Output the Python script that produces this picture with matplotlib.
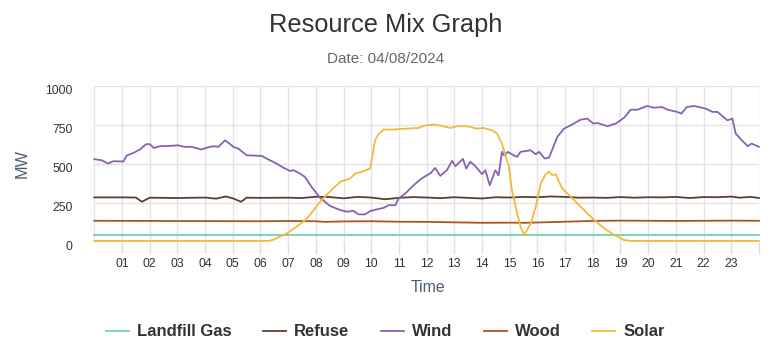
"""Resource mix for one day: MW by fuel type over 24 hours."""
import matplotlib

matplotlib.use("Agg")
import matplotlib.pyplot as plt
import matplotlib.transforms as mtransforms

plt.rcParams["font.family"] = ["Liberation Sans", "DejaVu Sans"]

# values (hour of day, MW)
landfill_hours = [0, 6, 12, 18, 24]
landfill_mw = [40, 40, 40, 40, 40]

refuse_hours = [0, 1, 1.5, 1.72, 2.0, 3, 4, 4.4, 4.75, 5.0, 5.3, 5.5, 6, 7, 7.5, 8,
                8.5, 9, 9.5, 10, 10.5, 11, 11.5, 12, 12.5, 13, 13.5, 14, 14.5, 15,
                15.5, 16, 16.5, 17, 17.5, 18, 18.5, 19, 19.5, 20, 20.5, 21, 21.5, 22,
                22.5, 23, 23.3, 23.7, 24]
refuse_mw = [284, 284, 283, 256, 282, 280, 283, 276, 290, 278, 256, 282, 281, 282, 280, 288,
             286, 278, 287, 283, 272, 281, 286, 283, 279, 285, 281, 277, 285, 283,
             287, 285, 290, 287, 282, 283, 281, 286, 282, 285, 284, 287, 280, 286,
             285, 289, 282, 287, 280]

wind_hours = [0, 0.26, 0.5, 0.69, 1.05, 1.17, 1.41, 1.65, 1.87, 2.0, 2.15, 2.37, 2.73,
              3.03, 3.27, 3.51, 3.87, 4.06, 4.3, 4.48, 4.72, 4.85, 5.02, 5.2, 5.5, 5.74,
              6.04, 6.34, 6.58, 6.82, 7.06, 7.2, 7.42, 7.6, 7.85, 8.16, 8.52, 8.88, 9.12,
              9.36, 9.54, 9.78, 9.96, 10.2, 10.45, 10.63, 10.87, 10.99, 11.23, 11.47,
              11.77, 12.01, 12.13, 12.31, 12.49, 12.73, 12.92, 13.04, 13.31, 13.43,
              13.58, 13.76, 14.0, 14.12, 14.28, 14.48, 14.6, 14.72, 14.8, 14.93, 15.14,
              15.27, 15.39, 15.75, 15.94, 16.06, 16.26, 16.42, 16.72, 16.96, 17.2, 17.56,
              17.8, 18.02, 18.17, 18.53, 18.83, 19.13, 19.37, 19.61, 19.97, 20.2, 20.5,
              20.7, 21.05, 21.2, 21.39, 21.66, 22.08, 22.32, 22.5, 22.86, 23.04, 23.16,
              23.4, 23.6, 23.73, 24.0]
wind_mw = [529, 522, 501, 516, 514, 552, 569, 591, 625, 625, 601, 612, 614,
           618, 608, 608, 591, 603, 612, 608, 650, 633, 608, 597, 554, 552,
           550, 522, 501, 475, 454, 458, 437, 416, 350, 280, 228, 203, 192,
           198, 175, 175, 196, 207, 217, 234, 234, 277, 309, 352,
           399, 426, 437, 473, 422, 458, 518, 484, 531, 469,
           512, 484, 433, 458, 362, 458, 426, 576, 552, 576, 554,
           544, 576, 586, 561, 576, 533, 539, 672, 725, 746, 782,
           789, 757, 761, 740, 757, 795, 846, 846, 870, 859, 863,
           846, 832, 821, 863, 870, 853, 832, 832, 778, 789, 693,
           646, 612, 629, 608]

wood_hours = [0, 2, 4, 6, 7, 8, 8.3, 9, 10, 11, 12, 13, 14, 15, 15.5, 16, 17, 18,
              19, 20, 21, 22, 23, 24]
wood_mw = [134, 133, 132, 131, 133, 131, 127, 130, 131, 128, 127, 124, 121, 122, 121,
           123, 128, 133, 135, 134, 133, 134, 135, 134]

solar_hours = [0, 6.3, 6.5, 6.7, 7.0, 7.3, 7.55, 7.8, 8.15, 8.5, 8.88, 9.24, 9.42, 9.66,
               9.96, 10.14, 10.26, 10.45, 10.81, 11.29, 11.71, 11.95, 12.25, 12.61,
               12.86, 13.1, 13.46, 13.82, 14.06, 14.36, 14.54, 14.72, 14.84, 14.96,
               15.08, 15.27, 15.41, 15.53, 15.69, 15.76, 15.94, 16.12, 16.3, 16.42,
               16.54, 16.66, 16.78, 16.9, 17.08, 17.32, 17.68, 18.05, 18.41, 18.77,
               19.13, 19.37, 24]
solar_mw = [5, 5, 14, 32, 58, 96, 128, 175, 255, 320, 384, 405, 437, 448,
            469, 650, 689, 719, 719, 725, 729, 746, 751, 740,
            729, 740, 740, 725, 729, 714, 693, 629, 554, 490,
            330, 181, 85, 43, 96, 117, 224, 373, 433, 448,
            426, 433, 384, 341, 309, 267, 203, 139, 85, 43,
            11, 5, 5]

hour_ticks = list(range(1, 25))
hour_labels = [f"{h:02d}" for h in range(1, 24)] + [""]
mw_ticks = [0, 250, 500, 750, 1000]

series = [
    ("Landfill Gas", landfill_hours, landfill_mw, "#74d1ad"),
    ("Refuse", refuse_hours, refuse_mw, "#5e3e2e"),
    ("Wind", wind_hours, wind_mw, "#8762b1"),
    ("Wood", wood_hours, wood_mw, "#ad551f"),
    ("Solar", solar_hours, solar_mw, "#f2ba3d"),
]

fig = plt.figure(figsize=(7.71, 3.55), dpi=100)
ax = fig.add_axes([0.1223, 0.3192, 0.8621, 0.4394])

for name, xs, ys, color in series:
    ax.plot(xs, ys, color=color, lw=1.3, label=name, clip_on=False, zorder=3)

ax.set_xlim(0, 24)
ax.set_ylim(0, 1000)
ax.set_xticks(hour_ticks)
ax.set_xticklabels(hour_labels)
ax.set_yticks(mw_ticks)
ax.grid(True, color="#e4e4e8", lw=1.0, zorder=0)
for side in ["top", "right", "bottom"]:
    ax.spines[side].set_visible(False)
ax.spines["left"].set_color("#e4e4e8")

ax.tick_params(axis="x", length=8.5, width=1.0, color="#dcdce4", pad=3.5,
               labelsize=8.8, labelcolor="#333333")
ax.tick_params(axis="y", length=0, pad=15.5, labelsize=8.8, labelcolor="#333333")
# highcharts puts y labels a touch below their grid line
shift = mtransforms.ScaledTranslation(0, -2.5 / 72, fig.dpi_scale_trans)
for lbl in ax.get_yticklabels():
    lbl.set_transform(lbl.get_transform() + shift)

fig.text(0.5, 1 - 25 / 355, "Resource Mix Graph", ha="center", va="center",
         fontsize=18.3, color="#333333")
fig.text(0.5, 1 - 59 / 355, "Date: 04/08/2024", ha="center", va="center",
         fontsize=11, color="#666666")
fig.text(22.5 / 771, 1 - 163 / 355, "MW", ha="center", va="center", rotation=90,
         fontsize=11.7, color="#4b5d6f")
fig.text(428 / 771, 1 - 287 / 355, "Time", ha="center", va="center",
         fontsize=11.4, color="#4b5d6f")

leg = fig.legend(loc="center", bbox_to_anchor=(0.5, 1 - 332 / 355), ncol=5,
                 frameon=False, handlelength=1.35, handletextpad=0.5,
                 columnspacing=1.9, prop={"size": 12, "weight": "bold"})
for text in leg.get_texts():
    text.set_color("#333333")

fig.savefig("out.png", dpi=100)
plt.close(fig)
